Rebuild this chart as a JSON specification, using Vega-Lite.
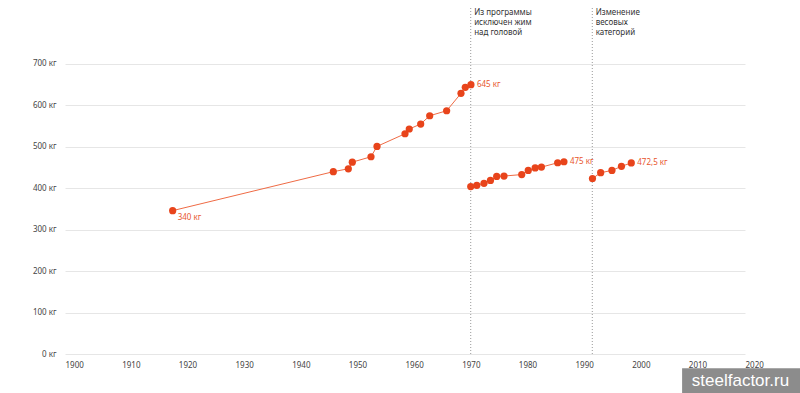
{
  "$schema": "https://vega.github.io/schema/vega-lite/v6.json",
  "width": 680,
  "height": 346,
  "autosize": "none",
  "padding": {"left": 65, "top": 8, "right": 55, "bottom": 39},
  "background": "white",
  "config": {
    "view": {"stroke": null},
    "font": "Noto Sans"
  },
  "datasets": {
    "pts": [
      {"year": 1919.0, "kg": 346, "series": "A"},
      {"year": 1947.35, "kg": 440, "series": "A"},
      {"year": 1950.0, "kg": 447, "series": "A"},
      {"year": 1950.7, "kg": 463, "series": "A"},
      {"year": 1954.0, "kg": 476, "series": "A"},
      {"year": 1955.06, "kg": 501, "series": "A"},
      {"year": 1960.0, "kg": 531.5, "series": "A"},
      {"year": 1960.75, "kg": 543, "series": "A"},
      {"year": 1962.77, "kg": 555, "series": "A"},
      {"year": 1964.36, "kg": 575, "series": "A"},
      {"year": 1967.35, "kg": 587, "series": "A"},
      {"year": 1969.88, "kg": 629, "series": "A"},
      {"year": 1970.64, "kg": 643.5, "series": "A"},
      {"year": 1971.64, "kg": 650, "series": "A"},
      {"year": 1971.6, "kg": 404, "series": "B"},
      {"year": 1972.67, "kg": 407, "series": "B"},
      {"year": 1973.94, "kg": 412, "series": "B"},
      {"year": 1975.08, "kg": 419, "series": "B"},
      {"year": 1976.18, "kg": 428.5, "series": "B"},
      {"year": 1977.47, "kg": 429.5, "series": "B"},
      {"year": 1980.6, "kg": 433, "series": "B"},
      {"year": 1981.75, "kg": 443, "series": "B"},
      {"year": 1982.97, "kg": 449, "series": "B"},
      {"year": 1984.08, "kg": 451, "series": "B"},
      {"year": 1986.94, "kg": 461.5, "series": "B"},
      {"year": 1988.05, "kg": 464, "series": "B"},
      {"year": 1993.08, "kg": 423.5, "series": "C"},
      {"year": 1994.53, "kg": 437.5, "series": "C"},
      {"year": 1996.52, "kg": 443, "series": "C"},
      {"year": 1998.2, "kg": 453, "series": "C"},
      {"year": 1999.93, "kg": 461, "series": "C"}
    ],
    "labels": [
      {"year": 1919.0, "kg": 346, "label": "340 кг", "pos": "below"},
      {"year": 1971.64, "kg": 650, "label": "645 кг", "pos": "right"},
      {"year": 1988.05, "kg": 464, "label": "475 кг", "pos": "right"},
      {"year": 1999.93, "kg": 461, "label": "472,5 кг", "pos": "right"}
    ],
    "events": [
      {"year": 1971.6, "top": 835, "bottom": 0, "tx": 1972.2, "ty": 832, "text": "Из программы\nисключен жим\nнад головой"},
      {"year": 1993.05, "top": 835, "bottom": 0, "tx": 1993.65, "ty": 832, "text": "Изменение\nвесовых\nкатегорий"}
    ],
    "wm": [
      {"x1": 2008.9, "x2": 2030, "y1": -34.5, "y2": -95, "tx": 2019.2, "ty": -64, "text": "steelfactor.ru"}
    ]
  },
  "layer": [
    {
      "data": {"name": "pts"},
      "mark": {"type": "line", "color": "#ef6b45", "strokeWidth": 1},
      "encoding": {
        "x": {
          "field": "year", "type": "quantitative",
          "scale": {"domain": [1900, 2020], "nice": false, "zero": false},
          "axis": {
            "title": null, "values": [1900,1910,1920,1930,1940,1950,1960,1970,1980,1990,2000,2010,2020],
            "format": "d", "grid": false, "domain": false, "ticks": false,
            "labelAlign": "left", "labelDx": -2, "labelPadding": 7,
            "labelFontSize": 8, "labelColor": "#444", "labelFlush": false
          }
        },
        "y": {
          "field": "kg", "type": "quantitative",
          "scale": {"domain": [0, 835], "nice": false},
          "axis": {
            "title": null, "values": [0,100,200,300,400,500,600,700],
            "labelExpr": "datum.value + ' кг'",
            "grid": true, "gridColor": "#e6e6e6", "gridWidth": 1,
            "domain": false, "ticks": false, "labelPadding": 9,
            "labelFontSize": 8, "labelColor": "#444"
          }
        },
        "detail": {"field": "series"}
      }
    },
    {
      "data": {"name": "events"},
      "mark": {"type": "rule", "color": "#999", "strokeDash": [1, 2], "strokeWidth": 1},
      "encoding": {
        "x": {"field": "year", "type": "quantitative"},
        "y": {"field": "bottom", "type": "quantitative"},
        "y2": {"field": "top"}
      }
    },
    {
      "data": {"name": "events"},
      "mark": {"type": "text", "align": "left", "baseline": "top", "fontSize": 8, "lineHeight": 10, "color": "#333", "lineBreak": "\n"},
      "encoding": {
        "x": {"field": "tx", "type": "quantitative"},
        "y": {"field": "ty", "type": "quantitative"},
        "text": {"field": "text"}
      }
    },
    {
      "data": {"name": "pts"},
      "mark": {"type": "circle", "color": "#e8441b", "opacity": 1, "size": 52},
      "encoding": {
        "x": {"field": "year", "type": "quantitative"},
        "y": {"field": "kg", "type": "quantitative"}
      }
    },
    {
      "data": {"name": "labels"},
      "transform": [{"filter": "datum.pos === 'right'"}],
      "mark": {"type": "text", "align": "left", "baseline": "middle", "dx": 6, "fontSize": 8, "color": "#e8552c"},
      "encoding": {
        "x": {"field": "year", "type": "quantitative"},
        "y": {"field": "kg", "type": "quantitative"},
        "text": {"field": "label"}
      }
    },
    {
      "data": {"name": "labels"},
      "transform": [{"filter": "datum.pos === 'below'"}],
      "mark": {"type": "text", "align": "left", "baseline": "middle", "dx": 5, "dy": 7, "fontSize": 8, "color": "#e8552c"},
      "encoding": {
        "x": {"field": "year", "type": "quantitative"},
        "y": {"field": "kg", "type": "quantitative"},
        "text": {"field": "label"}
      }
    },
    {
      "data": {"name": "wm"},
      "mark": {"type": "rect", "color": "#8c8c8c", "opacity": 1},
      "encoding": {
        "x": {"field": "x1", "type": "quantitative"},
        "x2": {"field": "x2"},
        "y": {"field": "y1", "type": "quantitative"},
        "y2": {"field": "y2"}
      }
    },
    {
      "data": {"name": "wm"},
      "mark": {"type": "text", "align": "center", "baseline": "middle", "fontSize": 17, "font": "Liberation Sans", "color": "white"},
      "encoding": {
        "x": {"field": "tx", "type": "quantitative"},
        "y": {"field": "ty", "type": "quantitative"},
        "text": {"field": "text"}
      }
    }
  ]
}
